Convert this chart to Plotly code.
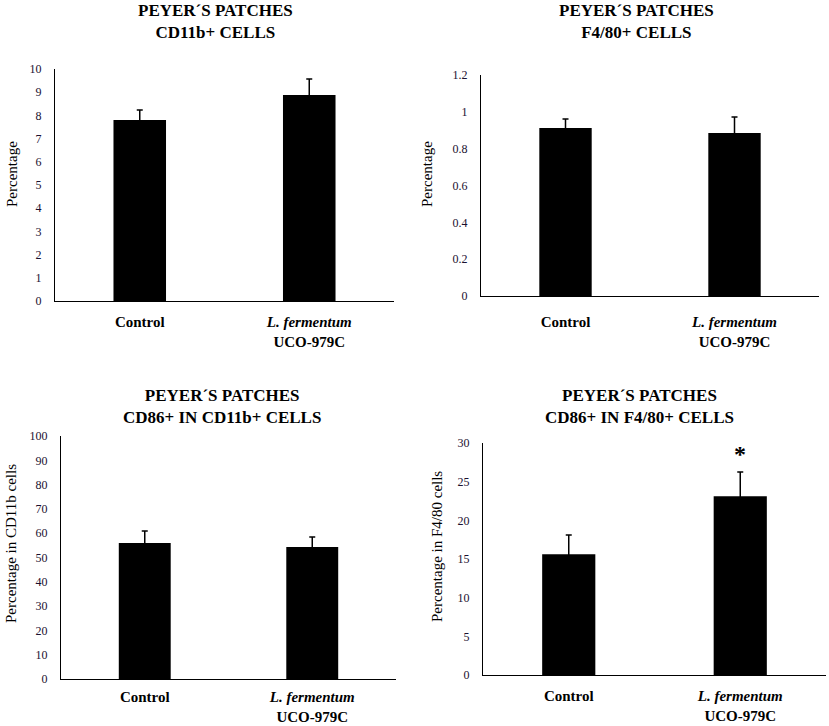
import plotly.graph_objects as go

categories = ["Control", "L. fermentum UCO-979C"]
tick_text = ["<b>Control</b>", "<b><i>L. fermentum</i></b><br><b>UCO-979C</b>"]

cd11b_vals = [7.8, 8.88]
cd11b_err = [0.43, 0.69]
f480_vals = [0.912, 0.885]
f480_err = [0.049, 0.087]
cd86_cd11b_vals = [56.0, 54.3]
cd86_cd11b_err = [4.9, 4.1]
cd86_f480_vals = [15.6, 23.1]
cd86_f480_err = [2.5, 3.15]
star_value = 28.6

titles = ["PEYER´S PATCHES<br>CD11b+ CELLS", "PEYER´S PATCHES<br>F4/80+ CELLS",
          "PEYER´S PATCHES<br>CD86+ IN CD11b+ CELLS", "PEYER´S PATCHES<br>CD86+ IN F4/80+ CELLS"]
ytitles = ["Percentage", "Percentage", "Percentage in CD11b cells", "Percentage in F4/80 cells"]

W, H = 829, 726
SERIF = "Liberation Serif"

# panel geometry in pixels: (x0, x1, ytop, ybottom)
panels = [(55, 394, 69, 301), (481, 819, 75, 296), (61, 396, 436, 679), (483, 826, 443, 675)]
ranges = [[0, 10], [0, 1.2], [0, 100], [0, 30]]
dticks = [1, 0.2, 10, 5]
xstandoff = [7, 12, 4, 7]
data = [(cd11b_vals, cd11b_err), (f480_vals, f480_err),
        (cd86_cd11b_vals, cd86_cd11b_err), (cd86_f480_vals, cd86_f480_err)]
title_pos = [(215, 21), (636, 21), (222, 407), (639, 407)]
ytitle_pos = [(12, 174), (427, 174), (11, 544), (437, 547)]

fig = go.Figure()
layout = dict(width=W, height=H, margin=dict(l=0, r=0, t=0, b=0, pad=0),
              paper_bgcolor="white", plot_bgcolor="white", showlegend=False,
              font=dict(family=SERIF, color="black"), annotations=[])

for i, ((x0, x1, yt, yb), rng, dt, (vals, errs)) in enumerate(zip(panels, ranges, dticks, data)):
    n = "" if i == 0 else str(i + 1)
    fig.add_trace(go.Bar(x=categories, y=vals, width=0.31, marker=dict(color="black", line=dict(width=0)),
                         error_y=dict(type="data", array=errs, symmetric=True, color="black",
                                      thickness=1.5, width=3),
                         hoverinfo="skip", xaxis="x" + n, yaxis="y" + n))
    layout["xaxis" + n] = dict(domain=[x0 / W, x1 / W], anchor="y" + n, range=[-0.5, 1.5],
                               tickvals=categories, ticktext=tick_text, showline=True,
                               linecolor="black", linewidth=1.3, ticks="", showgrid=False,
                               automargin=False,
                               tickfont=dict(family=SERIF, size=15, color="black"),
                               ticklabelstandoff=xstandoff[i])
    layout["yaxis" + n] = dict(domain=[1 - yb / H, 1 - yt / H], anchor="x" + n, range=rng, dtick=dt,
                               showline=True, linecolor="black", linewidth=1.3, ticks="",
                               showgrid=False, zeroline=False, automargin=False,
                               tickfont=dict(family=SERIF, size=12, color="#1a1030"),
                               ticklabelstandoff=10)
    tx, ty = title_pos[i]
    layout["annotations"].append(dict(text="<b>" + titles[i].replace("<br>", "</b><br><b>") + "</b>",
                                      x=tx / W, y=1 - ty / H, xref="paper", yref="paper",
                                      xanchor="center", yanchor="middle", showarrow=False,
                                      font=dict(family=SERIF, size=17, color="black")))
    ax, ay = ytitle_pos[i]
    layout["annotations"].append(dict(text=ytitles[i], x=ax / W, y=1 - ay / H, xref="paper", yref="paper",
                                      xanchor="center", yanchor="middle", textangle=-90, showarrow=False,
                                      font=dict(family=SERIF, size=15, color="black")))

layout["annotations"].append(dict(text="<b>*</b>", x=categories[1], y=star_value, xref="x4", yref="y4",
                                  xanchor="center", yanchor="middle", showarrow=False,
                                  font=dict(family=SERIF, size=24, color="black")))

fig.update_layout(**layout)
fig.write_html("out.html", config={"displayModeBar": False},
               post_script="document.body.style.margin='0px';document.body.style.overflow='hidden';")
